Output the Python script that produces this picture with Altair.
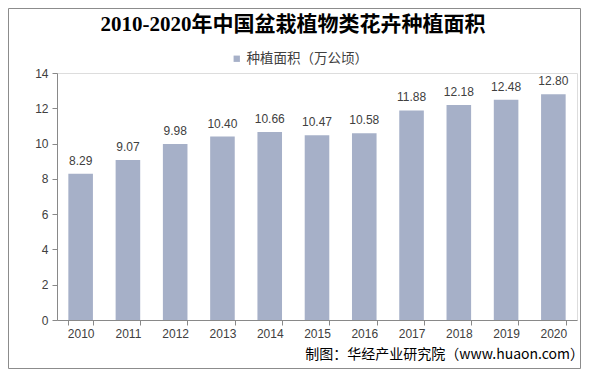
import altair as alt
import pandas as pd

years = ["2010", "2011", "2012", "2013", "2014", "2015", "2016", "2017", "2018", "2019", "2020"]
area = [8.29, 9.07, 9.98, 10.40, 10.66, 10.47, 10.58, 11.88, 12.18, 12.48, 12.80]
y_ticks = [0, 2, 4, 6, 8, 10, 12, 14]
series_name = "种植面积（万公顷）"
title_text = "2010-2020年中国盆栽植物类花卉种植面积"
source_text = "制图：华经产业研究院（www.huaon.com）"

BAR = "#A6B0C8"
AXIS = "#898989"
TXT = "#404040"
SANS = "Liberation Sans, Arial, Noto Sans CJK SC"
CJK = "Noto Sans CJK SC, Liberation Sans"

df = pd.DataFrame({"year": years, "value": area, "series": [series_name] * len(years)})

x = alt.X("year:N", sort=years, title=None,
          scale=alt.Scale(paddingInner=0.48, paddingOuter=0.24),
          axis=alt.Axis(labelAngle=0, tickBand="extent", domainColor=AXIS, tickColor=AXIS,
                        tickSize=5, labelFont=SANS, labelFontSize=12, labelColor=TXT,
                        labelPadding=3, grid=False))
y = alt.Y("value:Q", title=None,
          scale=alt.Scale(domain=[0, 14], nice=False, zero=True),
          axis=alt.Axis(values=y_ticks, tickCount=8, domainColor=AXIS, tickColor=AXIS,
                        tickSize=5, labelFont=SANS, labelFontSize=12, labelColor=TXT,
                        labelPadding=4, grid=False, labelOverlap=False, labelBound=False,
                        labelFlush=False))

bars = alt.Chart(df).mark_bar().encode(
    x=x, y=y,
    color=alt.Color("series:N", scale=alt.Scale(range=[BAR]),
                    legend=alt.Legend(title=None, orient="none", legendX=173, legendY=-21,
                                      symbolType="square", symbolSize=40, symbolStrokeWidth=0,
                                      labelFont=CJK, labelFontSize=13.5, labelColor=TXT,
                                      labelOffset=3)),
)

labels = alt.Chart(df).mark_text(baseline="bottom", dy=-6, font=SANS, fontSize=12, color=TXT).encode(
    x=x, y=y, text=alt.Text("value:Q", format=".2f")
)

meta = pd.DataFrame({"t": [title_text], "s": [source_text]})
title = alt.Chart(meta).mark_text(font="Liberation Serif, Noto Sans CJK SC", fontSize=21,
                                  fontWeight="bold", color="#000000", align="center",
                                  baseline="middle").encode(
    x=alt.value(236), y=alt.value(-48), text="t:N")
source = alt.Chart(meta).mark_text(font=CJK, fontSize=14, color="#000000", align="right",
                                   baseline="middle").encode(
    x=alt.value(527), y=alt.value(282), text="s:N")
border = alt.Chart(meta).mark_rect(fill=None, stroke="#8C8C8C", strokeWidth=1).encode(
    x=alt.value(-48.5), x2=alt.value(523.5), y=alt.value(-64.5), y2=alt.value(295.5))

chart = alt.layer(bars, labels, title, source, border).properties(
    width=520, height=247,
    padding={"left": 49, "top": 65, "right": 12, "bottom": 49},
    autosize=alt.AutoSizeParams(type="none"),
).configure_view(stroke=None).configure(background="white")

chart.save("out.html", embed_options={"renderer": "svg", "actions": False})
